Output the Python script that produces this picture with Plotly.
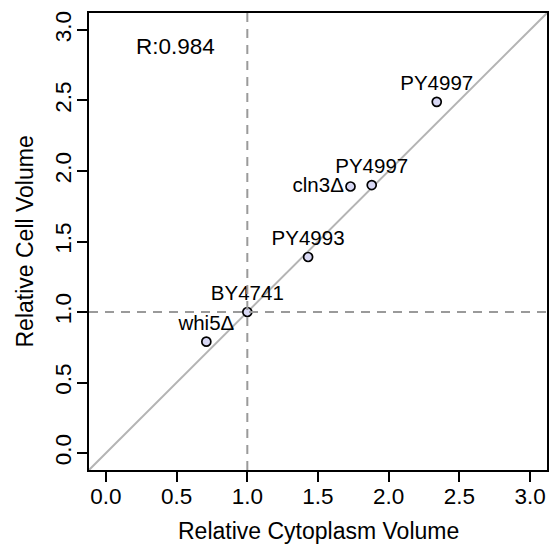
import plotly.graph_objects as go

# Strain measurements (relative to BY4741)
strains = ["whi5Δ", "BY4741", "PY4993", "cln3Δ", "PY4997", "PY4997"]
cyto_volume = [0.71, 1.00, 1.43, 1.73, 1.88, 2.34]
cell_volume = [0.79, 1.00, 1.39, 1.89, 1.90, 2.49]
label_pos = ["top center", "top center", "top center", "middle left", "top center", "top center"]
r_value = 0.984

tick_vals = [0.0, 0.5, 1.0, 1.5, 2.0, 2.5, 3.0]
tick_text = ["0.0", "0.5", "1.0", "1.5", "2.0", "2.5", "3.0"]
axis_range = [-0.12, 3.12]

FONT = "Liberation Sans, Arial, sans-serif"

fig = go.Figure()

# identity line across the whole plotting region
fig.add_trace(go.Scatter(
    x=axis_range, y=axis_range, mode="lines",
    line=dict(color="#b4b4b4", width=2), hoverinfo="skip", showlegend=False,
))

# reference lines at 1.0
fig.add_shape(type="line", xref="x", yref="paper", x0=1, x1=1, y0=0, y1=1,
              line=dict(color="#9a9a9a", width=2, dash="9px,7px"))
fig.add_shape(type="line", xref="paper", yref="y", x0=0, x1=1, y0=1, y1=1,
              line=dict(color="#9a9a9a", width=2, dash="9px,7px"))

fig.add_trace(go.Scatter(
    x=cyto_volume, y=cell_volume, mode="markers+text",
    text=strains, textposition=label_pos,
    textfont=dict(family=FONT, size=20.5, color="black"),
    marker=dict(size=9, color="#d8d8f4", line=dict(color="black", width=1.7)),
    showlegend=False,
))

axis_common = dict(
    range=axis_range, tickvals=tick_vals, ticktext=tick_text,
    showgrid=False, zeroline=False, showline=True, mirror=True,
    linecolor="black", linewidth=1.5, ticks="outside", ticklen=10,
    tickwidth=1.5, tickcolor="black",
    tickfont=dict(family=FONT, size=22.5, color="black"),
)

fig.update_xaxes(**axis_common, ticklabelstandoff=-5)
fig.update_yaxes(**axis_common, tickangle=-90, ticklabelstandoff=-3)

fig.add_annotation(x=0.49, y=2.88, xref="x", yref="y", text=f"R:{r_value}",
                   showarrow=False, font=dict(family=FONT, size=22.5, color="black"))
fig.add_annotation(x=0.5, y=0, xref="paper", yref="paper", yshift=-61,
                   text="Relative Cytoplasm Volume", showarrow=False,
                   yanchor="middle", font=dict(family=FONT, size=23, color="black"))
fig.add_annotation(x=0, y=0.5, xref="paper", yref="paper", xshift=-65,
                   text="Relative Cell Volume", showarrow=False, textangle=-90,
                   xanchor="center", font=dict(family=FONT, size=23, color="black"))

fig.update_layout(
    width=560, height=545,
    margin=dict(l=89, r=11, t=11, b=75),
    paper_bgcolor="white", plot_bgcolor="white",
)

fig.write_html("out.html")
